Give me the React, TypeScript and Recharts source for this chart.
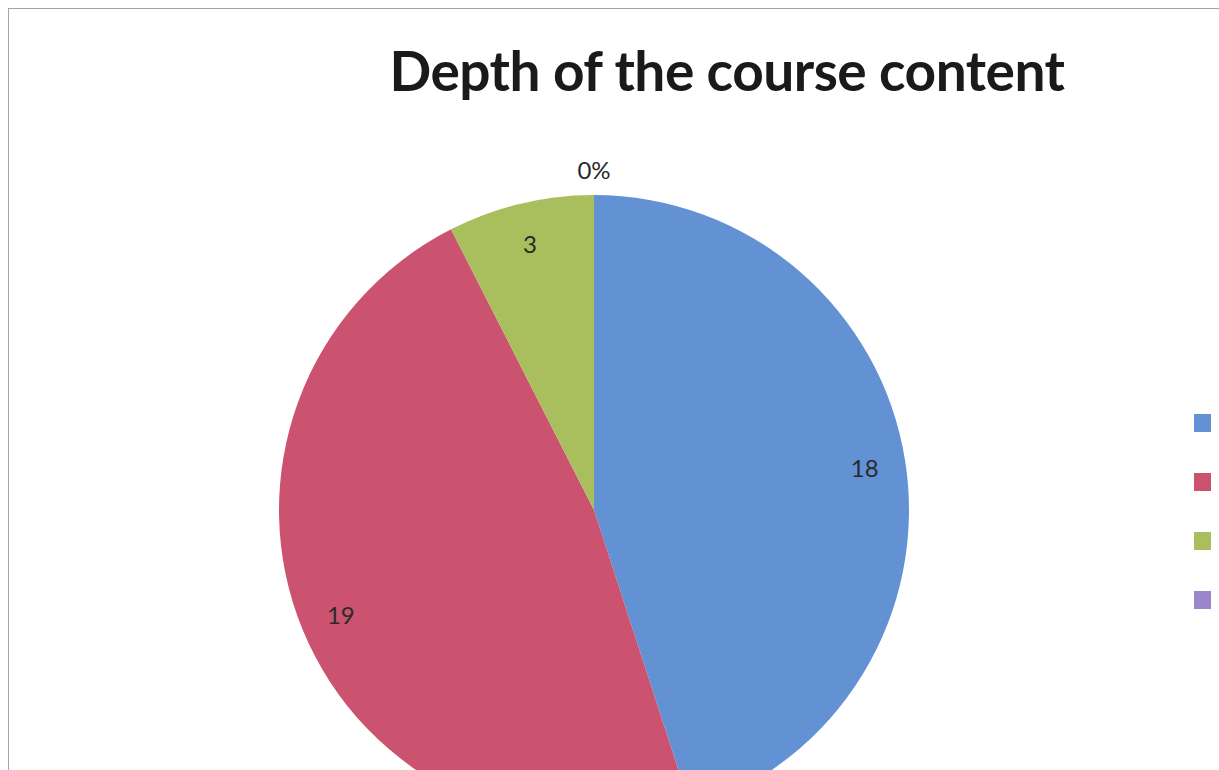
import React from 'react';
import { PieChart, Pie, Cell, Legend } from 'recharts';

// chart data
const categories = ['Excellent', 'Good', 'Average', 'Poor'];
const counts = [18, 19, 3, 0];
const COLORS = ['#6392d4', '#cb5370', '#a9bf5e', '#9c85cb'];

const data = categories.map((name, i) => ({ name, value: counts[i] }));

const RADIAN = Math.PI / 180;

const renderLabel = (props: any) => {
  const { cx, cy, midAngle, outerRadius, value } = props;
  // zero slice gets a percent label just outside the rim
  const r = value === 0 ? outerRadius + 26 : outerRadius * 0.87;
  const x = cx + r * Math.cos(-midAngle * RADIAN);
  const y = cy + r * Math.sin(-midAngle * RADIAN);
  return (
    <text
      x={x}
      y={y}
      fill="#2a2a2a"
      fontSize={24}
      fontFamily="Lato, 'Open Sans', sans-serif"
      textAnchor="middle"
      dominantBaseline="central"
    >
      {value === 0 ? '0%' : value}
    </text>
  );
};

// legend text falls outside the frame in the original, only the swatches show
const renderLegend = () => (
  <div>
    {data.map((entry, index) => (
      <div key={`legend-${index}`} style={{ display: 'flex', alignItems: 'center', height: 59 }}>
        <span
          title={entry.name}
          style={{ width: 17, height: 18, background: COLORS[index], display: 'inline-block' }}
        />
      </div>
    ))}
  </div>
);

export default function App() {
  return (
    <div
      style={{
        position: 'fixed',
        left: 8,
        top: 8,
        width: 1211,
        height: 762,
        overflow: 'hidden',
        background: '#fff',
        borderTop: '1px solid #a3a3a8',
        borderLeft: '1px solid #a3a3a8',
        boxSizing: 'border-box',
      }}
    >
      <div
        style={{
          position: 'absolute',
          left: 0,
          width: 1436,
          top: 28,
          textAlign: 'center',
          fontFamily: "Lato, 'Open Sans', sans-serif",
          fontWeight: 700,
          fontSize: 55,
          color: '#1a1a1a',
          letterSpacing: -0.5,
        }}
      >
        Depth of the course content
      </div>
      <PieChart width={1211} height={762}>
        <Pie
          data={data}
          dataKey="value"
          nameKey="name"
          cx={580}
          cy={496}
          outerRadius={315}
          startAngle={90}
          endAngle={-270}
          stroke="none"
          label={renderLabel}
          labelLine={false}
          isAnimationActive={false}
        >
          {data.map((entry, index) => (
            <Cell key={`cell-${index}`} fill={COLORS[index % COLORS.length]} />
          ))}
        </Pie>
        <Legend
          layout="vertical"
          content={renderLegend}
          wrapperStyle={{ position: 'absolute', left: 1185, top: 384, width: 30 }}
        />
      </PieChart>
    </div>
  );
}
